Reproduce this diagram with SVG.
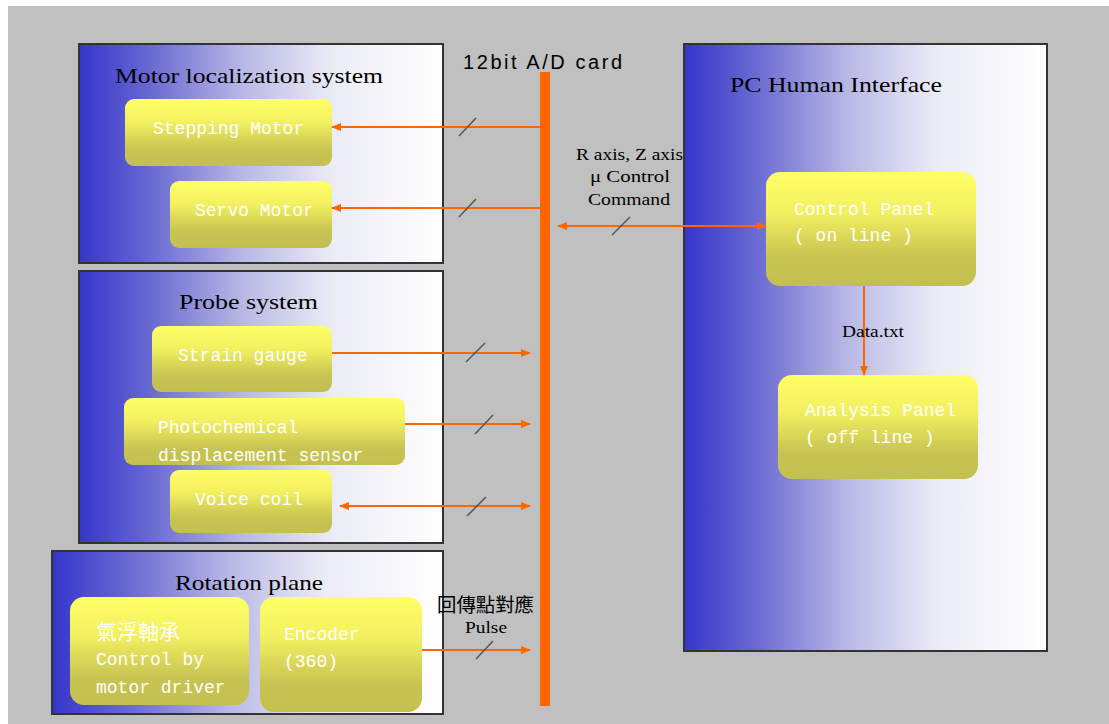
<svg xmlns="http://www.w3.org/2000/svg" width="1109" height="724" viewBox="0 0 1109 724">
<defs>
<linearGradient id="boxg" x1="0" y1="0" x2="1" y2="0">
<stop offset="0" stop-color="#3535cc"/>
<stop offset="0.2" stop-color="#6a6ad2"/>
<stop offset="0.45" stop-color="#b8b8e6"/>
<stop offset="0.7" stop-color="#ececf6"/>
<stop offset="1" stop-color="#ffffff"/>
</linearGradient>
<linearGradient id="nodeg" x1="0" y1="0" x2="0" y2="1">
<stop offset="0" stop-color="#ffff66"/>
<stop offset="0.35" stop-color="#f2f060"/>
<stop offset="0.75" stop-color="#c8c452"/>
<stop offset="1" stop-color="#c4c050"/>
</linearGradient>
<marker id="ah" viewBox="0 0 10 10" refX="9" refY="5" markerWidth="10" markerHeight="10" markerUnits="userSpaceOnUse" orient="auto-start-reverse">
<path d="M0,1 L10,5 L0,9 Z" fill="#ff6600"/>
</marker>
<style>
.box{fill:url(#boxg);stroke:#333;stroke-width:2}
.node{fill:url(#nodeg);stroke:none}
.ntx{font-family:"Liberation Mono","DejaVu Sans Mono",monospace;font-size:18px;fill:#ffffff}
.cjk{font-family:"Noto Sans CJK TC",sans-serif;font-size:21px;fill:#ffffff}
.ttl{font-family:"Liberation Serif","Noto Sans CJK TC",serif;font-size:22px;fill:#000}
.lbl{font-family:"Liberation Serif","Noto Sans CJK TC",serif;font-size:17px;fill:#000}
.con{stroke:#ff6600;stroke-width:2;fill:none}
.sl{stroke:#555;stroke-width:1.5}
</style>
</defs>
<rect x="0" y="0" width="1109" height="724" fill="#ffffff"/>
<rect x="8" y="6" width="1101" height="718" fill="#c0c0c0"/>

<g id="motor-system">
<rect class="box" x="79" y="44" width="364" height="219"/>
<text class="ttl" x="115" y="83" textLength="268" lengthAdjust="spacingAndGlyphs">Motor localization system</text>
</g>
<g id="stepping-motor">
<rect class="node" x="125" y="99" width="207" height="67" rx="9"/>
<text class="ntx" x="153" y="134">Stepping Motor</text>
</g>
<g id="servo-motor">
<rect class="node" x="170" y="181" width="162" height="67" rx="9"/>
<text class="ntx" x="195" y="216">Servo Motor</text>
</g>

<g id="probe-system">
<rect class="box" x="79" y="271" width="364" height="272"/>
<text class="ttl" x="179" y="309" textLength="139" lengthAdjust="spacingAndGlyphs">Probe system</text>
</g>
<g id="strain-gauge">
<rect class="node" x="152" y="326" width="180" height="66" rx="9"/>
<text class="ntx" x="178" y="361">Strain gauge</text>
</g>
<g id="photochemical">
<rect class="node" x="124" y="398" width="281" height="67" rx="9"/>
<text class="ntx" x="158" y="433">Photochemical</text>
<text class="ntx" x="158" y="461">displacement sensor</text>
</g>
<g id="voice-coil">
<rect class="node" x="170" y="470" width="162" height="63" rx="9"/>
<text class="ntx" x="195" y="505">Voice coil</text>
</g>

<g id="rotation-plane">
<rect class="box" x="52" y="551" width="391" height="163"/>
<text class="ttl" x="175" y="590" textLength="148" lengthAdjust="spacingAndGlyphs">Rotation plane</text>
</g>
<g id="air-bearing">
<rect class="node" x="70" y="597" width="179" height="108" rx="14"/>
<text class="cjk" x="96" y="639">氣浮軸承</text>
<text class="ntx" x="96" y="665">Control by</text>
<text class="ntx" x="96" y="693">motor driver</text>
</g>
<g id="encoder">
<rect class="node" x="260" y="597" width="162" height="115" rx="14"/>
<text class="ntx" x="284" y="640">Encoder</text>
<text class="ntx" x="284" y="667">(360)</text>
</g>

<g id="pc-interface">
<rect class="box" x="684" y="44" width="363" height="607"/>
<text class="ttl" x="730" y="92" textLength="212" lengthAdjust="spacingAndGlyphs">PC Human Interface</text>
</g>
<g id="control-panel">
<rect class="node" x="766" y="172" width="210" height="114" rx="14"/>
<text class="ntx" x="794" y="215">Control Panel</text>
<text class="ntx" x="794" y="241">( on line )</text>
</g>
<g id="analysis-panel">
<rect class="node" x="778" y="375" width="200" height="104" rx="14"/>
<text class="ntx" x="805" y="416">Analysis Panel</text>
<text class="ntx" x="805" y="443">( off line )</text>
</g>

<g id="ad-card">
<rect x="540" y="72" width="10" height="634" fill="#ff6600"/>
<text x="463" y="69" font-family="'Liberation Sans',sans-serif" font-size="20" fill="#000" textLength="159" lengthAdjust="spacing">12bit A/D card</text>
</g>

<g id="connectors">
<line class="con" x1="540" y1="127" x2="332" y2="127" marker-end="url(#ah)"/>
<line class="sl" x1="459" y1="136" x2="476" y2="118"/>
<line class="con" x1="540" y1="208" x2="332" y2="208" marker-end="url(#ah)"/>
<line class="sl" x1="459" y1="217" x2="476" y2="199"/>
<line class="con" x1="558" y1="226" x2="766" y2="226" marker-start="url(#ah)" marker-end="url(#ah)"/>
<line class="sl" x1="612" y1="235" x2="630" y2="217"/>
<line class="con" x1="332" y1="353" x2="530" y2="353" marker-end="url(#ah)"/>
<line class="sl" x1="466" y1="362" x2="485" y2="343"/>
<line class="con" x1="405" y1="424" x2="530" y2="424" marker-end="url(#ah)"/>
<line class="sl" x1="475" y1="434" x2="493" y2="415"/>
<line class="con" x1="340" y1="506" x2="530" y2="506" marker-start="url(#ah)" marker-end="url(#ah)"/>
<line class="sl" x1="467" y1="516" x2="486" y2="497"/>
<line class="con" x1="422" y1="650" x2="530" y2="650" marker-end="url(#ah)"/>
<line class="sl" x1="476" y1="659" x2="493" y2="641"/>
<line class="con" x1="864" y1="286" x2="864" y2="375" marker-end="url(#ah)"/>
<text class="lbl" x="576" y="160" textLength="107" lengthAdjust="spacingAndGlyphs">R axis, Z axis</text>
<text class="lbl" x="590" y="182" textLength="80" lengthAdjust="spacingAndGlyphs">μ Control</text>
<text class="lbl" x="588" y="205" textLength="82" lengthAdjust="spacingAndGlyphs">Command</text>
<text class="lbl" x="842" y="337" textLength="62" lengthAdjust="spacingAndGlyphs">Data.txt</text>
<text class="lbl" x="437" y="612" style="font-size:19px" textLength="97" lengthAdjust="spacingAndGlyphs">回傳點對應</text>
<text class="lbl" x="465" y="633" textLength="42" lengthAdjust="spacingAndGlyphs">Pulse</text>
</g>
</svg>
